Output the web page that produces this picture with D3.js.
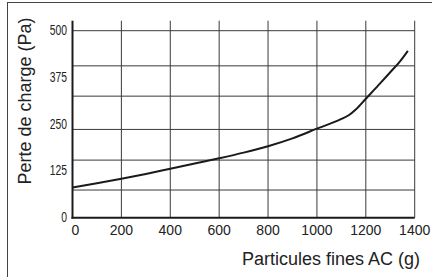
<!DOCTYPE html>
<html>
<head>
<meta charset="utf-8">
<script src="https://cdn.jsdelivr.net/npm/d3@7"></script>
<style>
  body { margin: 0; background: #fff; }
  svg { display: block; font-family: "Liberation Sans", Arial, sans-serif; }
</style>
</head>
<body>
<svg id="chart"></svg>
<script>
/* chart values */
const xTicks = [0, 200, 400, 600, 800, 1000, 1200, 1400];
const yTicks = [0, 125, 250, 375, 500];
// horizontal grid lines do not sit on the labels in the original
const yGrid = [74, 154, 236, 325, 406, 500];
const dustMass = [0, 100, 200, 300, 400, 500, 600, 700, 800, 900, 1000, 1100, 1130, 1160, 1200, 1250, 1300, 1340, 1372];
const pressureDrop = [81, 92, 104, 117, 131, 145, 159, 174, 191, 212, 238, 264, 274, 290, 318, 353, 389, 418, 446];

const width = 432, height = 277;
const plot = { left: 72.5, right: 414.7, top: 30.7, bottom: 217.7 };

const svg = d3.select('#chart').attr('width', width).attr('height', height);

/* outer frame, runs off the right and bottom edge */
svg.append('rect').attr('x', 7.5).attr('y', 2.5).attr('width', 440).attr('height', 290)
    .attr('fill', 'none').attr('stroke', '#444').attr('stroke-width', 1);

const x = d3.scaleLinear().domain([0, 1400]).range([plot.left, plot.right]);
const y = d3.scaleLinear().domain([0, 500]).range([plot.bottom, plot.top]);

/* vertical grid */
svg.append('g').selectAll('line').data(xTicks.slice(1)).enter().append('line')
    .attr('x1', d => x(d)).attr('x2', d => x(d))
    .attr('y1', plot.top - 10).attr('y2', plot.bottom)
    .attr('stroke', '#3a3a3a').attr('stroke-width', 1);

/* horizontal grid */
svg.append('g').selectAll('line').data(yGrid).enter().append('line')
    .attr('x1', plot.left).attr('x2', plot.right)
    .attr('y1', d => y(d)).attr('y2', d => y(d))
    .attr('stroke', '#3a3a3a').attr('stroke-width', 1);

/* axes */
svg.append('line').attr('x1', plot.left).attr('x2', plot.left)
    .attr('y1', plot.top - 10).attr('y2', plot.bottom + 1)
    .attr('stroke', '#1a1a1a').attr('stroke-width', 2);
svg.append('line').attr('x1', plot.left - 1).attr('x2', plot.right)
    .attr('y1', plot.bottom).attr('y2', plot.bottom)
    .attr('stroke', '#1a1a1a').attr('stroke-width', 2);

/* tick labels */
svg.append('g').selectAll('text').data(xTicks).enter().append('text')
    .attr('x', d => x(d) + (d === 0 ? 3 : 0)).attr('y', 235)
    .attr('text-anchor', 'middle').attr('font-size', 14).attr('fill', '#222')
    .text(d => d);

// y labels are narrow in the original
svg.append('g').selectAll('g').data(yTicks).enter().append('g')
    .attr('transform', d => `translate(67, ${y(d) - 0.5}) scale(0.74, 1)`)
    .append('text').attr('text-anchor', 'end').attr('dy', '0.35em')
    .attr('font-size', 14).attr('fill', '#222').text(d => d);

/* curve */
const line = d3.line().x(d => x(d[0])).y(d => y(d[1])).curve(d3.curveMonotoneX);
svg.append('path').datum(d3.zip(dustMass, pressureDrop))
    .attr('d', line).attr('fill', 'none')
    .attr('stroke', '#1a1a1a').attr('stroke-width', 2);

/* axis titles */
svg.append('text').attr('x', 420).attr('y', 265)
    .attr('text-anchor', 'end').attr('font-size', 18).attr('fill', '#222')
    .text('Particules fines AC (g)');
svg.append('text').attr('transform', 'translate(31, 101) rotate(-90)')
    .attr('text-anchor', 'middle').attr('font-size', 18).attr('fill', '#222')
    .text('Perte de charge (Pa)');
</script>
</body>
</html>
